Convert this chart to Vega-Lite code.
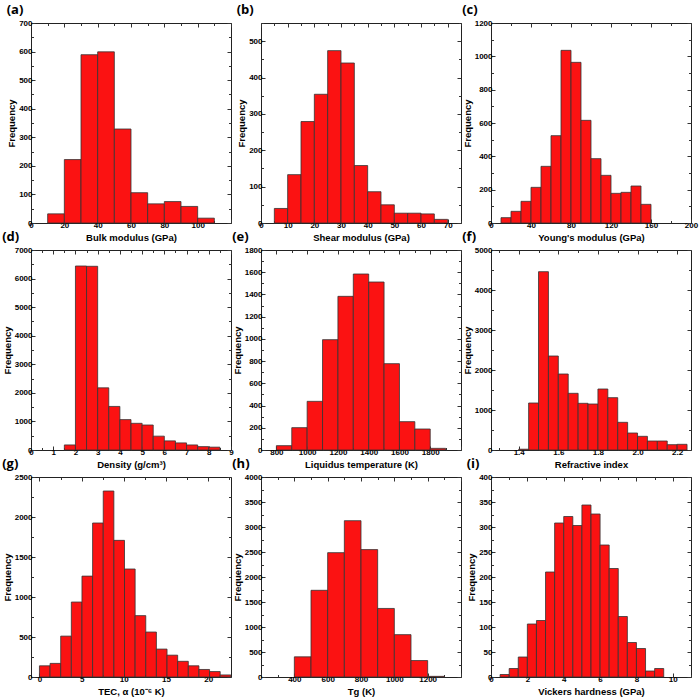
{
"$schema": "https://vega.github.io/schema/vega-lite/v6.json",
"background": "white",
"padding": {"left": 1, "top": 3, "right": 0, "bottom": 0},
"datasets": {
"h": [
{"p":"a","lo":10,"hi":20,"n":32},{"p":"a","lo":20,"hi":30,"n":222},{"p":"a","lo":30,"hi":40,"n":589},{"p":"a","lo":40,"hi":50,"n":599},{"p":"a","lo":50,"hi":60,"n":329},{"p":"a","lo":60,"hi":70,"n":106},{"p":"a","lo":70,"hi":80,"n":67},{"p":"a","lo":80,"hi":90,"n":75},{"p":"a","lo":90,"hi":100,"n":58},{"p":"a","lo":100,"hi":110,"n":17},
{"p":"b","lo":5,"hi":10,"n":40},{"p":"b","lo":10,"hi":15,"n":133},{"p":"b","lo":15,"hi":20,"n":279},{"p":"b","lo":20,"hi":25,"n":354},{"p":"b","lo":25,"hi":30,"n":474},{"p":"b","lo":30,"hi":35,"n":440},{"p":"b","lo":35,"hi":40,"n":158},{"p":"b","lo":40,"hi":45,"n":86},{"p":"b","lo":45,"hi":50,"n":50},{"p":"b","lo":50,"hi":55,"n":27},{"p":"b","lo":55,"hi":60,"n":27},{"p":"b","lo":60,"hi":65,"n":25},{"p":"b","lo":65,"hi":70,"n":10},
{"p":"c","lo":10,"hi":20,"n":32},{"p":"c","lo":20,"hi":30,"n":70},{"p":"c","lo":30,"hi":40,"n":130},{"p":"c","lo":40,"hi":50,"n":214},{"p":"c","lo":50,"hi":60,"n":340},{"p":"c","lo":60,"hi":70,"n":524},{"p":"c","lo":70,"hi":80,"n":1036},{"p":"c","lo":80,"hi":90,"n":964},{"p":"c","lo":90,"hi":100,"n":616},{"p":"c","lo":100,"hi":110,"n":386},{"p":"c","lo":110,"hi":120,"n":286},{"p":"c","lo":120,"hi":130,"n":178},{"p":"c","lo":130,"hi":140,"n":184},{"p":"c","lo":140,"hi":150,"n":222},{"p":"c","lo":150,"hi":160,"n":112},
{"p":"d","lo":1.5,"hi":2,"n":177},{"p":"d","lo":2,"hi":2.5,"n":6440},{"p":"d","lo":2.5,"hi":3,"n":6430},{"p":"d","lo":3,"hi":3.5,"n":2175},{"p":"d","lo":3.5,"hi":4,"n":1525},{"p":"d","lo":4,"hi":4.5,"n":1064},{"p":"d","lo":4.5,"hi":5,"n":934},{"p":"d","lo":5,"hi":5.5,"n":875},{"p":"d","lo":5.5,"hi":6,"n":485},{"p":"d","lo":6,"hi":6.5,"n":319},{"p":"d","lo":6.5,"hi":7,"n":248},{"p":"d","lo":7,"hi":7.5,"n":177},{"p":"d","lo":7.5,"hi":8,"n":118},{"p":"d","lo":8,"hi":8.5,"n":100},
{"p":"e","lo":800,"hi":900,"n":39},{"p":"e","lo":900,"hi":1000,"n":201},{"p":"e","lo":1000,"hi":1100,"n":438},{"p":"e","lo":1100,"hi":1200,"n":993},{"p":"e","lo":1200,"hi":1300,"n":1383},{"p":"e","lo":1300,"hi":1400,"n":1584},{"p":"e","lo":1400,"hi":1500,"n":1512},{"p":"e","lo":1500,"hi":1600,"n":777},{"p":"e","lo":1600,"hi":1700,"n":255},{"p":"e","lo":1700,"hi":1800,"n":189},{"p":"e","lo":1800,"hi":1900,"n":15},
{"p":"f","lo":1.4,"hi":1.45,"n":20},{"p":"f","lo":1.45,"hi":1.5,"n":1175},{"p":"f","lo":1.5,"hi":1.55,"n":4458},{"p":"f","lo":1.55,"hi":1.6,"n":2350},{"p":"f","lo":1.6,"hi":1.65,"n":1900},{"p":"f","lo":1.65,"hi":1.7,"n":1417},{"p":"f","lo":1.7,"hi":1.75,"n":1167},{"p":"f","lo":1.75,"hi":1.8,"n":1150},{"p":"f","lo":1.8,"hi":1.85,"n":1525},{"p":"f","lo":1.85,"hi":1.9,"n":1308},{"p":"f","lo":1.9,"hi":1.95,"n":692},{"p":"f","lo":1.95,"hi":2,"n":425},{"p":"f","lo":2,"hi":2.05,"n":342},{"p":"f","lo":2.05,"hi":2.1,"n":225},{"p":"f","lo":2.1,"hi":2.15,"n":225},{"p":"f","lo":2.15,"hi":2.2,"n":133},{"p":"f","lo":2.2,"hi":2.25,"n":142},
{"p":"g","lo":0,"hi":1.26,"n":140},{"p":"g","lo":1.26,"hi":2.52,"n":170},{"p":"g","lo":2.52,"hi":3.78,"n":511},{"p":"g","lo":3.78,"hi":5.04,"n":937},{"p":"g","lo":5.04,"hi":6.3,"n":1261},{"p":"g","lo":6.3,"hi":7.56,"n":1925},{"p":"g","lo":7.56,"hi":8.82,"n":2325},{"p":"g","lo":8.82,"hi":10.08,"n":1708},{"p":"g","lo":10.08,"hi":11.34,"n":1350},{"p":"g","lo":11.34,"hi":12.6,"n":767},{"p":"g","lo":12.6,"hi":13.86,"n":562},{"p":"g","lo":13.86,"hi":15.12,"n":349},{"p":"g","lo":15.12,"hi":16.38,"n":273},{"p":"g","lo":16.38,"hi":17.64,"n":196},{"p":"g","lo":17.64,"hi":18.9,"n":140},{"p":"g","lo":18.9,"hi":20.16,"n":94},{"p":"g","lo":20.16,"hi":21.42,"n":68},{"p":"g","lo":21.42,"hi":22.68,"n":26},
{"p":"h","lo":400,"hi":500,"n":403},{"p":"h","lo":500,"hi":600,"n":1734},{"p":"h","lo":600,"hi":700,"n":2487},{"p":"h","lo":700,"hi":800,"n":3126},{"p":"h","lo":800,"hi":900,"n":2548},{"p":"h","lo":900,"hi":1000,"n":1371},{"p":"h","lo":1000,"hi":1100,"n":847},{"p":"h","lo":1100,"hi":1200,"n":329},{"p":"h","lo":1200,"hi":1300,"n":13},
{"p":"i","lo":0.5,"hi":1,"n":5},{"p":"i","lo":1,"hi":1.5,"n":17},{"p":"i","lo":1.5,"hi":2,"n":40},{"p":"i","lo":2,"hi":2.5,"n":106},{"p":"i","lo":2.5,"hi":3,"n":113},{"p":"i","lo":3,"hi":3.5,"n":210},{"p":"i","lo":3.5,"hi":4,"n":308},{"p":"i","lo":4,"hi":4.5,"n":321},{"p":"i","lo":4.5,"hi":5,"n":303},{"p":"i","lo":5,"hi":5.5,"n":344},{"p":"i","lo":5.5,"hi":6,"n":326},{"p":"i","lo":6,"hi":6.5,"n":264},{"p":"i","lo":6.5,"hi":7,"n":217},{"p":"i","lo":7,"hi":7.5,"n":121},{"p":"i","lo":7.5,"hi":8,"n":69},{"p":"i","lo":8,"hi":8.5,"n":57},{"p":"i","lo":8.5,"hi":9,"n":12},{"p":"i","lo":9,"hi":9.5,"n":17}
]
},
"data": {"name": "h"},
"columns": 3,
"spacing": {"row": 27, "column": 30},
"bounds": "flush",
"align": "all",
"concat": [
{"title":"(a)","width":200,"height":200,"transform":[{"filter":"datum.p=='a'"}],
"layer":[
{"mark":{"type":"rect","fill":"#fb1212","stroke":"#333333","strokeWidth":0.8},
"encoding":{
"x":{"field":"lo","type":"quantitative","scale":{"domain":[0,120],"nice":false,"zero":false},"axis":{"title":"Bulk modulus (GPa)","values":[0,10,20,30,40,50,60,70,80,90,100,110,120],"labelExpr":"datum.value % 20 == 0 && datum.value <= 100 ? datum.value + '' : ''","tickSize":{"condition":{"test":"datum.value % 20 == 0","value":-4},"value":-2.5}}},
"x2":{"field":"hi"},
"y":{"field":"n","type":"quantitative","scale":{"domain":[0,700],"nice":false,"zero":false},"axis":{"title":"Frequency","values":[0,50,100,150,200,250,300,350,400,450,500,550,600,650,700],"labelExpr":"datum.value % 100 == 0 ? datum.value + '' : ''","tickSize":{"condition":{"test":"datum.value % 100 == 0","value":-4},"value":-2.5}}},
"y2":{"datum":0}}},
{"mark":{"type":"rect","opacity":0},
"encoding":{
"x":{"field":"lo","type":"quantitative","scale":{"domain":[0,120],"nice":false,"zero":false},"axis":{"orient":"top","title":null,"labels":false,"values":[0,10,20,30,40,50,60,70,80,90,100,110,120],"tickSize":{"condition":{"test":"datum.value % 20 == 0","value":-4},"value":-2.5}}},
"x2":{"field":"hi"},
"y":{"field":"n","type":"quantitative","scale":{"domain":[0,700],"nice":false,"zero":false},"axis":{"orient":"right","title":null,"labels":false,"values":[0,50,100,150,200,250,300,350,400,450,500,550,600,650,700],"tickSize":{"condition":{"test":"datum.value % 100 == 0","value":-4},"value":-2.5}}},
"y2":{"datum":0}}}
],
"resolve":{"axis":{"x":"independent","y":"independent"}}},

{"title":"(b)","width":200,"height":200,"transform":[{"filter":"datum.p=='b'"}],
"layer":[
{"mark":{"type":"rect","fill":"#fb1212","stroke":"#333333","strokeWidth":0.8},
"encoding":{
"x":{"field":"lo","type":"quantitative","scale":{"domain":[0,75],"nice":false,"zero":false},"axis":{"title":"Shear modulus (GPa)","values":[0,5,10,15,20,25,30,35,40,45,50,55,60,65,70,75],"labelExpr":"datum.value % 10 == 0 && datum.value <= 70 ? datum.value + '' : ''","tickSize":{"condition":{"test":"datum.value % 10 == 0","value":-4},"value":-2.5}}},
"x2":{"field":"hi"},
"y":{"field":"n","type":"quantitative","scale":{"domain":[0,550],"nice":false,"zero":false},"axis":{"title":"Frequency","values":[0,50,100,150,200,250,300,350,400,450,500,550],"labelExpr":"datum.value % 100 == 0 ? datum.value + '' : ''","tickSize":{"condition":{"test":"datum.value % 100 == 0","value":-4},"value":-2.5}}},
"y2":{"datum":0}}},
{"mark":{"type":"rect","opacity":0},
"encoding":{
"x":{"field":"lo","type":"quantitative","scale":{"domain":[0,75],"nice":false,"zero":false},"axis":{"orient":"top","title":null,"labels":false,"values":[0,5,10,15,20,25,30,35,40,45,50,55,60,65,70,75],"tickSize":{"condition":{"test":"datum.value % 10 == 0","value":-4},"value":-2.5}}},
"x2":{"field":"hi"},
"y":{"field":"n","type":"quantitative","scale":{"domain":[0,550],"nice":false,"zero":false},"axis":{"orient":"right","title":null,"labels":false,"values":[0,50,100,150,200,250,300,350,400,450,500,550],"tickSize":{"condition":{"test":"datum.value % 100 == 0","value":-4},"value":-2.5}}},
"y2":{"datum":0}}}
],
"resolve":{"axis":{"x":"independent","y":"independent"}}},

{"title":"(c)","width":200,"height":200,"transform":[{"filter":"datum.p=='c'"}],
"layer":[
{"mark":{"type":"rect","fill":"#fb1212","stroke":"#333333","strokeWidth":0.8},
"encoding":{
"x":{"field":"lo","type":"quantitative","scale":{"domain":[0,200],"nice":false,"zero":false},"axis":{"title":"Young's modulus (GPa)","values":[0,20,40,60,80,100,120,140,160,180,200],"labelExpr":"datum.value % 40 == 0 ? datum.value + '' : ''","tickSize":{"condition":{"test":"datum.value % 40 == 0","value":-4},"value":-2.5}}},
"x2":{"field":"hi"},
"y":{"field":"n","type":"quantitative","scale":{"domain":[0,1200],"nice":false,"zero":false},"axis":{"title":"Frequency","values":[0,100,200,300,400,500,600,700,800,900,1000,1100,1200],"labelExpr":"datum.value % 200 == 0 ? datum.value + '' : ''","tickSize":{"condition":{"test":"datum.value % 200 == 0","value":-4},"value":-2.5}}},
"y2":{"datum":0}}},
{"mark":{"type":"rect","opacity":0},
"encoding":{
"x":{"field":"lo","type":"quantitative","scale":{"domain":[0,200],"nice":false,"zero":false},"axis":{"orient":"top","title":null,"labels":false,"values":[0,20,40,60,80,100,120,140,160,180,200],"tickSize":{"condition":{"test":"datum.value % 40 == 0","value":-4},"value":-2.5}}},
"x2":{"field":"hi"},
"y":{"field":"n","type":"quantitative","scale":{"domain":[0,1200],"nice":false,"zero":false},"axis":{"orient":"right","title":null,"labels":false,"values":[0,100,200,300,400,500,600,700,800,900,1000,1100,1200],"tickSize":{"condition":{"test":"datum.value % 200 == 0","value":-4},"value":-2.5}}},
"y2":{"datum":0}}}
],
"resolve":{"axis":{"x":"independent","y":"independent"}}},

{"title":"(d)","width":200,"height":200,"transform":[{"filter":"datum.p=='d'"}],
"layer":[
{"mark":{"type":"rect","fill":"#fb1212","stroke":"#333333","strokeWidth":0.8},
"encoding":{
"x":{"field":"lo","type":"quantitative","scale":{"domain":[0,9],"nice":false,"zero":false},"axis":{"title":"Density (g/cm³)","values":[0,0.5,1,1.5,2,2.5,3,3.5,4,4.5,5,5.5,6,6.5,7,7.5,8,8.5,9],"labelExpr":"datum.value % 1 == 0 ? datum.value + '' : ''","tickSize":{"condition":{"test":"datum.value % 1 == 0","value":-4},"value":-2.5}}},
"x2":{"field":"hi"},
"y":{"field":"n","type":"quantitative","scale":{"domain":[0,7000],"nice":false,"zero":false},"axis":{"title":"Frequency","values":[0,500,1000,1500,2000,2500,3000,3500,4000,4500,5000,5500,6000,6500,7000],"labelExpr":"datum.value % 1000 == 0 ? datum.value + '' : ''","tickSize":{"condition":{"test":"datum.value % 1000 == 0","value":-4},"value":-2.5}}},
"y2":{"datum":0}}},
{"mark":{"type":"rect","opacity":0},
"encoding":{
"x":{"field":"lo","type":"quantitative","scale":{"domain":[0,9],"nice":false,"zero":false},"axis":{"orient":"top","title":null,"labels":false,"values":[0,0.5,1,1.5,2,2.5,3,3.5,4,4.5,5,5.5,6,6.5,7,7.5,8,8.5,9],"tickSize":{"condition":{"test":"datum.value % 1 == 0","value":-4},"value":-2.5}}},
"x2":{"field":"hi"},
"y":{"field":"n","type":"quantitative","scale":{"domain":[0,7000],"nice":false,"zero":false},"axis":{"orient":"right","title":null,"labels":false,"values":[0,500,1000,1500,2000,2500,3000,3500,4000,4500,5000,5500,6000,6500,7000],"tickSize":{"condition":{"test":"datum.value % 1000 == 0","value":-4},"value":-2.5}}},
"y2":{"datum":0}}}
],
"resolve":{"axis":{"x":"independent","y":"independent"}}},

{"title":"(e)","width":200,"height":200,"transform":[{"filter":"datum.p=='e'"}],
"layer":[
{"mark":{"type":"rect","fill":"#fb1212","stroke":"#333333","strokeWidth":0.8},
"encoding":{
"x":{"field":"lo","type":"quantitative","scale":{"domain":[700,2000],"nice":false,"zero":false},"axis":{"title":"Liquidus temperature (K)","values":[700,800,900,1000,1100,1200,1300,1400,1500,1600,1700,1800,1900,2000],"labelExpr":"datum.value % 200 == 0 && datum.value <= 1800 ? datum.value + '' : ''","tickSize":{"condition":{"test":"datum.value % 200 == 0","value":-4},"value":-2.5}}},
"x2":{"field":"hi"},
"y":{"field":"n","type":"quantitative","scale":{"domain":[0,1800],"nice":false,"zero":false},"axis":{"title":"Frequency","values":[0,100,200,300,400,500,600,700,800,900,1000,1100,1200,1300,1400,1500,1600,1700,1800],"labelExpr":"datum.value % 200 == 0 ? datum.value + '' : ''","tickSize":{"condition":{"test":"datum.value % 200 == 0","value":-4},"value":-2.5}}},
"y2":{"datum":0}}},
{"mark":{"type":"rect","opacity":0},
"encoding":{
"x":{"field":"lo","type":"quantitative","scale":{"domain":[700,2000],"nice":false,"zero":false},"axis":{"orient":"top","title":null,"labels":false,"values":[700,800,900,1000,1100,1200,1300,1400,1500,1600,1700,1800,1900,2000],"tickSize":{"condition":{"test":"datum.value % 200 == 0","value":-4},"value":-2.5}}},
"x2":{"field":"hi"},
"y":{"field":"n","type":"quantitative","scale":{"domain":[0,1800],"nice":false,"zero":false},"axis":{"orient":"right","title":null,"labels":false,"values":[0,100,200,300,400,500,600,700,800,900,1000,1100,1200,1300,1400,1500,1600,1700,1800],"tickSize":{"condition":{"test":"datum.value % 200 == 0","value":-4},"value":-2.5}}},
"y2":{"datum":0}}}
],
"resolve":{"axis":{"x":"independent","y":"independent"}}},

{"title":"(f)","width":200,"height":200,"transform":[{"filter":"datum.p=='f'"}],
"layer":[
{"mark":{"type":"rect","fill":"#fb1212","stroke":"#333333","strokeWidth":0.8},
"encoding":{
"x":{"field":"lo","type":"quantitative","scale":{"domain":[1.26,2.27],"nice":false,"zero":false},"axis":{"title":"Refractive index","values":[1.3,1.4,1.5,1.6,1.7,1.8,1.9,2.0,2.1,2.2],"labelExpr":"abs(datum.value*5 - round(datum.value*5)) < 0.01 ? format(datum.value, '.1f') : ''","tickSize":{"condition":{"test":"abs(datum.value*5 - round(datum.value*5)) < 0.01","value":-4},"value":-2.5}}},
"x2":{"field":"hi"},
"y":{"field":"n","type":"quantitative","scale":{"domain":[0,5000],"nice":false,"zero":false},"axis":{"title":"Frequency","values":[0,500,1000,1500,2000,2500,3000,3500,4000,4500,5000],"labelExpr":"datum.value % 1000 == 0 ? datum.value + '' : ''","tickSize":{"condition":{"test":"datum.value % 1000 == 0","value":-4},"value":-2.5}}},
"y2":{"datum":0}}},
{"mark":{"type":"rect","opacity":0},
"encoding":{
"x":{"field":"lo","type":"quantitative","scale":{"domain":[1.26,2.27],"nice":false,"zero":false},"axis":{"orient":"top","title":null,"labels":false,"values":[1.3,1.4,1.5,1.6,1.7,1.8,1.9,2.0,2.1,2.2],"tickSize":{"condition":{"test":"abs(datum.value*5 - round(datum.value*5)) < 0.01","value":-4},"value":-2.5}}},
"x2":{"field":"hi"},
"y":{"field":"n","type":"quantitative","scale":{"domain":[0,5000],"nice":false,"zero":false},"axis":{"orient":"right","title":null,"labels":false,"values":[0,500,1000,1500,2000,2500,3000,3500,4000,4500,5000],"tickSize":{"condition":{"test":"datum.value % 1000 == 0","value":-4},"value":-2.5}}},
"y2":{"datum":0}}}
],
"resolve":{"axis":{"x":"independent","y":"independent"}}},

{"title":"(g)","width":200,"height":200,"transform":[{"filter":"datum.p=='g'"}],
"layer":[
{"mark":{"type":"rect","fill":"#fb1212","stroke":"#333333","strokeWidth":0.8},
"encoding":{
"x":{"field":"lo","type":"quantitative","scale":{"domain":[-1,22.7],"nice":false,"zero":false},"axis":{"title":"TEC, α (10⁻⁶ K)","values":[0,2.5,5,7.5,10,12.5,15,17.5,20,22.5],"labelExpr":"datum.value % 5 == 0 ? datum.value + '' : ''","tickSize":{"condition":{"test":"datum.value % 5 == 0","value":-4},"value":-2.5}}},
"x2":{"field":"hi"},
"y":{"field":"n","type":"quantitative","scale":{"domain":[0,2500],"nice":false,"zero":false},"axis":{"title":"Frequency","values":[0,250,500,750,1000,1250,1500,1750,2000,2250,2500],"labelExpr":"datum.value % 500 == 0 ? datum.value + '' : ''","tickSize":{"condition":{"test":"datum.value % 500 == 0","value":-4},"value":-2.5}}},
"y2":{"datum":0}}},
{"mark":{"type":"rect","opacity":0},
"encoding":{
"x":{"field":"lo","type":"quantitative","scale":{"domain":[-1,22.7],"nice":false,"zero":false},"axis":{"orient":"top","title":null,"labels":false,"values":[0,2.5,5,7.5,10,12.5,15,17.5,20,22.5],"tickSize":{"condition":{"test":"datum.value % 5 == 0","value":-4},"value":-2.5}}},
"x2":{"field":"hi"},
"y":{"field":"n","type":"quantitative","scale":{"domain":[0,2500],"nice":false,"zero":false},"axis":{"orient":"right","title":null,"labels":false,"values":[0,250,500,750,1000,1250,1500,1750,2000,2250,2500],"tickSize":{"condition":{"test":"datum.value % 500 == 0","value":-4},"value":-2.5}}},
"y2":{"datum":0}}}
],
"resolve":{"axis":{"x":"independent","y":"independent"}}},

{"title":"(h)","width":200,"height":200,"transform":[{"filter":"datum.p=='h'"}],
"layer":[
{"mark":{"type":"rect","fill":"#fb1212","stroke":"#333333","strokeWidth":0.8},
"encoding":{
"x":{"field":"lo","type":"quantitative","scale":{"domain":[200,1400],"nice":false,"zero":false},"axis":{"title":"Tg (K)","values":[200,300,400,500,600,700,800,900,1000,1100,1200,1300,1400],"labelExpr":"datum.value % 200 == 0 && datum.value >= 400 && datum.value <= 1200 ? datum.value + '' : ''","tickSize":{"condition":{"test":"datum.value % 200 == 0","value":-4},"value":-2.5}}},
"x2":{"field":"hi"},
"y":{"field":"n","type":"quantitative","scale":{"domain":[0,4000],"nice":false,"zero":false},"axis":{"title":"Frequency","values":[0,250,500,750,1000,1250,1500,1750,2000,2250,2500,2750,3000,3250,3500,3750,4000],"labelExpr":"datum.value % 500 == 0 ? datum.value + '' : ''","tickSize":{"condition":{"test":"datum.value % 500 == 0","value":-4},"value":-2.5}}},
"y2":{"datum":0}}},
{"mark":{"type":"rect","opacity":0},
"encoding":{
"x":{"field":"lo","type":"quantitative","scale":{"domain":[200,1400],"nice":false,"zero":false},"axis":{"orient":"top","title":null,"labels":false,"values":[200,300,400,500,600,700,800,900,1000,1100,1200,1300,1400],"tickSize":{"condition":{"test":"datum.value % 200 == 0","value":-4},"value":-2.5}}},
"x2":{"field":"hi"},
"y":{"field":"n","type":"quantitative","scale":{"domain":[0,4000],"nice":false,"zero":false},"axis":{"orient":"right","title":null,"labels":false,"values":[0,250,500,750,1000,1250,1500,1750,2000,2250,2500,2750,3000,3250,3500,3750,4000],"tickSize":{"condition":{"test":"datum.value % 500 == 0","value":-4},"value":-2.5}}},
"y2":{"datum":0}}}
],
"resolve":{"axis":{"x":"independent","y":"independent"}}},

{"title":"(i)","width":200,"height":200,"transform":[{"filter":"datum.p=='i'"}],
"layer":[
{"mark":{"type":"rect","fill":"#fb1212","stroke":"#333333","strokeWidth":0.8},
"encoding":{
"x":{"field":"lo","type":"quantitative","scale":{"domain":[0,11],"nice":false,"zero":false},"axis":{"title":"Vickers hardness (GPa)","values":[0,1,2,3,4,5,6,7,8,9,10,11],"labelExpr":"datum.value % 2 == 0 && datum.value <= 10 ? datum.value + '' : ''","tickSize":{"condition":{"test":"datum.value % 2 == 0","value":-4},"value":-2.5}}},
"x2":{"field":"hi"},
"y":{"field":"n","type":"quantitative","scale":{"domain":[0,400],"nice":false,"zero":false},"axis":{"title":"Frequency","values":[0,25,50,75,100,125,150,175,200,225,250,275,300,325,350,375,400],"labelExpr":"datum.value % 50 == 0 ? datum.value + '' : ''","tickSize":{"condition":{"test":"datum.value % 50 == 0","value":-4},"value":-2.5}}},
"y2":{"datum":0}}},
{"mark":{"type":"rect","opacity":0},
"encoding":{
"x":{"field":"lo","type":"quantitative","scale":{"domain":[0,11],"nice":false,"zero":false},"axis":{"orient":"top","title":null,"labels":false,"values":[0,1,2,3,4,5,6,7,8,9,10,11],"tickSize":{"condition":{"test":"datum.value % 2 == 0","value":-4},"value":-2.5}}},
"x2":{"field":"hi"},
"y":{"field":"n","type":"quantitative","scale":{"domain":[0,400],"nice":false,"zero":false},"axis":{"orient":"right","title":null,"labels":false,"values":[0,25,50,75,100,125,150,175,200,225,250,275,300,325,350,375,400],"tickSize":{"condition":{"test":"datum.value % 50 == 0","value":-4},"value":-2.5}}},
"y2":{"datum":0}}}
],
"resolve":{"axis":{"x":"independent","y":"independent"}}}
],
"config": {
"view": {"stroke": "#222222", "strokeWidth": 1},
"axis": {"domain": false, "grid": false, "labelFont": "Liberation Sans", "labelFontWeight": "bold", "labelFontSize": 8, "labelColor": "#000000", "titleFont": "Liberation Sans", "titleFontWeight": "bold", "titleFontSize": 9.5, "titleColor": "#000000", "tickColor": "#333333", "tickWidth": 1, "labelPadding": 2, "titlePadding": 2, "labelFlush": false, "labelOverlap": false},
"axisY": {"labelPadding": 3},
"title": {"font": "Open Sans", "fontSize": 13, "fontWeight": "bold", "anchor": "start", "frame": "bounds", "offset": 2, "color": "#000000"}
}
}
